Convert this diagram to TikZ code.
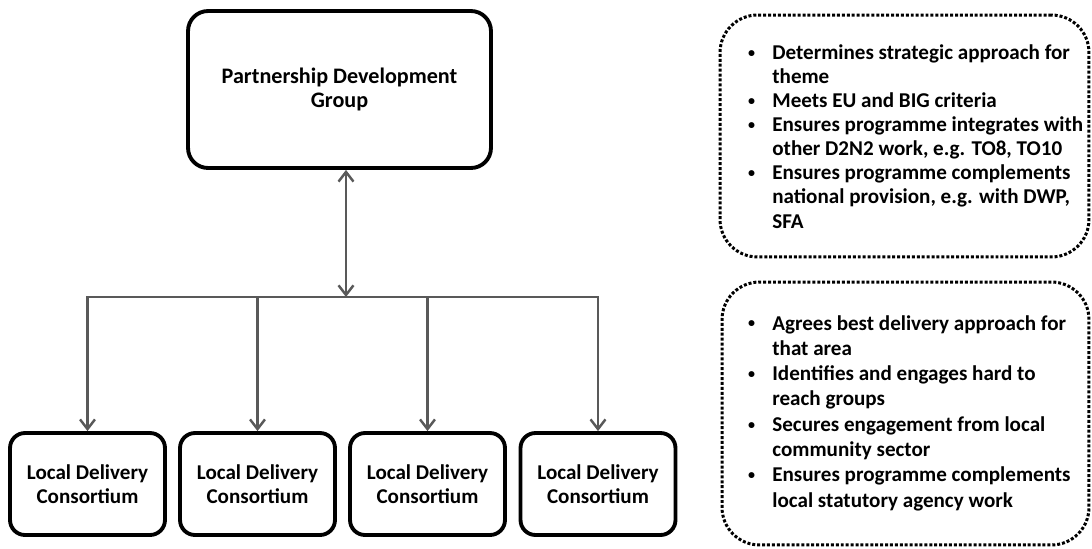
\documentclass[tikz,border=0pt]{standalone}
\usepackage{fontspec}
\setmainfont{Carlito}
\usetikzlibrary{arrows.meta}

\newcommand{\rolebullet}{\makebox[14.8pt][l]{\hspace{1pt}\raisebox{1.2pt}{\fontsize{8}{8}\selectfont\textbullet}}}

\begin{document}
\begin{tikzpicture}[x=0.02cm,y=-0.02cm,
		font=\fontsize{12}{13.7}\selectfont\bfseries,
		>={Straight Barb[length=5.5pt,width=8.5pt]},
		box/.style={draw,line width=2.2pt,rounded corners=0.3cm,align=center},
		dotbox/.style={draw,line width=1.7pt,dash pattern=on 1.7pt off 1.1pt,rounded corners=0.75cm},
		conn/.style={draw=black!65,line width=1.4pt}]
	\useasboundingbox (0,0) rectangle (1092,548);
	
	\node[box,minimum width=6.06cm,minimum height=3.14cm,rounded corners=0.4cm,font=\fontsize{12.6}{13.7}\selectfont\bfseries] (pdg) at (339.5,89.5) {Partnership Development\\Group};
	
	\begin{scope}[every node/.style={box,minimum width=3.1cm,minimum height=2.04cm}]
		\node (ldcA) at (87.5,484) {Local Delivery\\Consortium};
		\node (ldcB) at (257.5,484) {Local Delivery\\Consortium};
		\node (ldcC) at (427.5,484) {Local Delivery\\Consortium};
		\node (ldcD) at (598,484) {Local Delivery\\Consortium};
	\end{scope}
	
	\begin{scope}
		\coordinate (bus) at (346,297);
		\draw[conn,<->] (bus) -- (bus |- pdg.south);
		\draw[conn,->] (bus) -| (ldcA);
		\draw[conn,->] (bus) -| (ldcB);
		\draw[conn,->] (bus) -| (ldcC);
		\draw[conn,->] (bus) -| (ldcD);
	\end{scope}
	
	% roles
	\node[dotbox,minimum width=7.38cm,minimum height=4.84cm] (pdgrole) at (904.5,136) {};
	\node[dotbox,minimum width=7.34cm,minimum height=5.26cm] (ldcrole) at (905.5,413.5) {};
	
	\node[anchor=west,inner sep=0pt] (pdglist) at (746,139) {%
		\begin{tabular}{@{}l@{}l@{}}
			\rolebullet & Determines strategic approach for\\
			& theme\\
			\rolebullet & Meets EU and BIG criteria\\
			\rolebullet & Ensures programme integrates with\\
			& other D2N2 work, e.g. TO8, TO10\\
			\rolebullet & Ensures programme complements\\
			& national provision, e.g. with DWP,\\
			& SFA
		\end{tabular}};
	\node[anchor=west,inner sep=0pt,font=\fontsize{12}{14.4}\selectfont\bfseries] (ldclist) at (746,413.5) {%
		\begin{tabular}{@{}l@{}l@{}}
			\rolebullet & Agrees best delivery approach for\\
			& that area\\
			\rolebullet & Identifies and engages hard to\\
			& reach groups\\
			\rolebullet & Secures engagement from local\\
			& community sector\\
			\rolebullet & Ensures programme complements\\
			& local statutory agency work
		\end{tabular}};
\end{tikzpicture}
\end{document}
